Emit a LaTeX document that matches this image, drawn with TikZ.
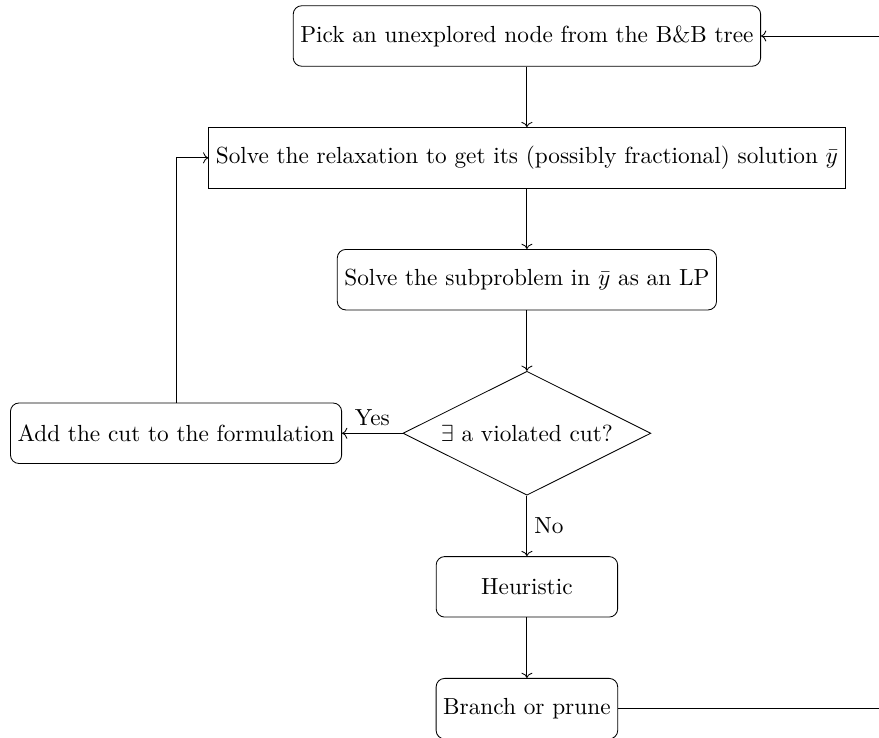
\documentclass[tikz,border=0pt]{standalone}
\usepackage{tikz}
\usetikzlibrary{arrows.meta,positioning,shapes.geometric}

\begin{document}
\begin{tikzpicture}[font=\fontsize{10.95}{13.6}\selectfont,node distance=1cm,
  process/.style={draw,rectangle,minimum height=1cm},
  roundbox/.style={draw,rectangle,rounded corners,minimum height=1cm},
  decision/.style={draw,diamond,aspect=2}]

%% ── page frame (the return line runs off the right edge) ─────────────────────
\clip (-8.71,0.595) rectangle (5.82,-11.60);

%% ── main column ──────────────────────────────────────────────────────────────
\node[roundbox] (pick) at (0,0) {Pick an unexplored node from the B\&B tree};
\node[process,below=of pick] (relax)
  {Solve the relaxation to get its (possibly fractional) solution $\bar{y}$};
\node[roundbox,below=of relax] (sub) {Solve the subproblem in $\bar{y}$ as an LP};
\node[decision,below=of sub] (cut) {$\exists$ a violated cut?};
\node[roundbox,left=of cut] (add) {Add the cut to the formulation};
\node[roundbox,minimum width=3cm,below=of cut] (heur) {Heuristic};
\node[roundbox,minimum width=3cm,below=of heur] (branch) {Branch or prune};

%% corner of the return loop, off the page
\coordinate (ret) at (7,0);

%% ── connectors ───────────────────────────────────────────────────────────────
\draw[->] (pick) -- (relax);
\draw[->] (relax) -- (sub);
\draw[->] (sub) -- (cut);
\draw[->] (cut) -- node[above] {Yes} (add);
\draw[->] (cut) -- node[right] {No} (heur);
\draw[->] (heur) -- (branch);
\draw[->] (add.north) |- (relax.west);
\draw[->] (branch.east) -- (branch.east -| ret) -- (ret) -- (pick.east);

\end{tikzpicture}
\end{document}
